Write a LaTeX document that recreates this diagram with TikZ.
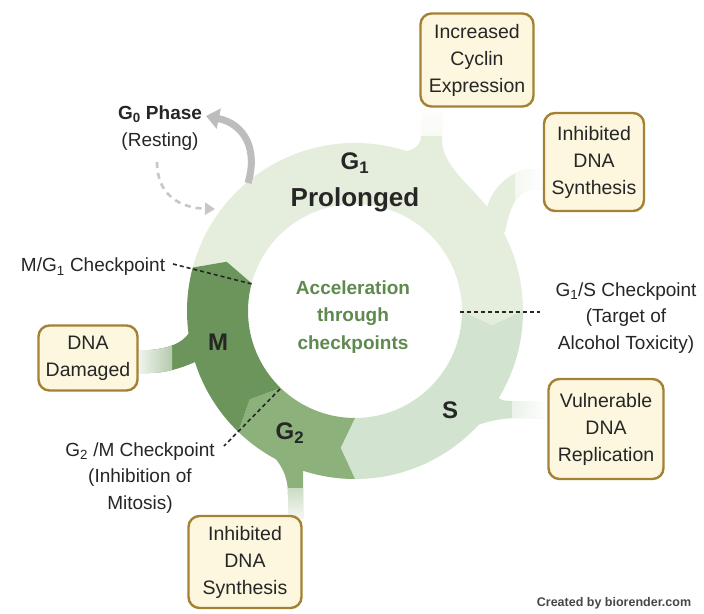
\documentclass[tikz,border=0pt]{standalone}
\usepackage{fontspec}
\setmainfont{Liberation Sans}
\usetikzlibrary{arrows.meta}
\definecolor{gonec}{HTML}{E5EEDD}
\definecolor{sphc}{HTML}{D2E4CF}
\definecolor{gtwoc}{HTML}{8CB17A}
\definecolor{mphc}{HTML}{6B955A}
\definecolor{accelc}{HTML}{5E8A4F}
\definecolor{boxfill}{HTML}{FCF7DE}
\definecolor{boxline}{HTML}{A58233}
\definecolor{inkc}{HTML}{262626}
\definecolor{arrowc}{HTML}{BDBDBD}
\tikzset{
  cellbox/.style={draw=boxline, fill=boxfill, line width=2.4pt, rounded corners=11pt,
    align=center, text=inkc, font=\fontsize{19.5}{27}\selectfont},
  phaselbl/.style={text=inkc, font=\bfseries\fontsize{24}{28}\selectfont},
  cklabel/.style={align=center, text=inkc, font=\fontsize{19}{26.5}\selectfont},
  ckline/.style={inkc, line width=1.6pt, dash pattern=on 4pt off 3pt},
}
\begin{document}
\begin{tikzpicture}[x=1pt,y=-1pt]
  \fill[white] (0,0) rectangle (704,613);
  \useasboundingbox (0,0) rectangle (704,613);

  % branches out of the ring
  \fill[gonec, path picture={\shade[top color=white, bottom color=gonec] (400,104) rectangle (460,135);}]
    (421,108) -- (421,135) .. controls (421,147) and (413,150) .. (403,152)
    -- (440,200) -- (487,207) .. controls (470,185) and (442,165) .. (442,140) -- (442,108) -- cycle;
  \fill[gonec, path picture={\shade[left color=gonec, right color=white] (515,160) rectangle (546,200);}]
    (487,207) .. controls (493,188) and (508,172) .. (530,169) -- (546,169)
    -- (546,189) -- (532,189) .. controls (518,191) and (510,205) .. (505,232) -- (470,230) -- cycle;
  \fill[mphc, path picture={\shade[left color=mphc!10, right color=mphc] (138,340) rectangle (172,380);}]
    (138,350) -- (150,350) .. controls (170,348) and (182,343) .. (189,333)
    -- (215,345) -- (195,362) .. controls (182,368) and (165,373) .. (150,373) -- (138,373) -- cycle;
  \fill[gtwoc, path picture={\shade[top color=gtwoc, bottom color=gtwoc!10] (280,488) rectangle (310,518);}]
    (303,518) -- (303,470) -- (290,440) -- (275,458)
    .. controls (283,468) and (288,478) .. (288,495) -- (288,518) -- cycle;
  \fill[sphc, path picture={\shade[left color=sphc, right color=white] (512,395) rectangle (548,425);}]
    (548,401) -- (510,401) .. controls (503,401) and (500,399) .. (497,397)
    -- (470,400) -- (478,425) .. controls (492,420) and (505,418) .. (520,418) -- (548,418) -- cycle;

  % the cycle
  \begin{scope}[shift={(355,311)}]
    \foreach \a/\b/\c in {-165/0/gonec, 0/90/sphc, 90/134/gtwoc, 134/195/mphc}
      \fill[\c] (\a:168) arc[start angle=\a, end angle=\b, radius=168] -- ({\b+6}:137.5)
        -- (\b:107) arc[start angle=\b, end angle=\a, radius=107] -- ({\a+6}:137.5) -- cycle;
  \end{scope}

  \node[phaselbl] (gone) at (355,163) {G\textsubscript{1}};
  \node[text=inkc, font=\bfseries\fontsize{26}{30}\selectfont] (prol) at (355,200) {Prolonged};
  \node[phaselbl] (mph) at (218,342) {M};
  \node[phaselbl] (gtwo) at (290,433) {G\textsubscript{2}};
  \node[phaselbl] (sph) at (450,410) {S};
  \node[align=center, text=accelc, font=\bfseries\fontsize{19}{27.5}\selectfont] (accel) at (353,317)
    {Acceleration\\through\\checkpoints};

  % checkpoints
  \node[cklabel] (mgone) at (93,267) {M/G\textsubscript{1} Checkpoint};
  \node[cklabel] (gones) at (626,318) {G\textsubscript{1}/S Checkpoint\\(Target of\\Alcohol Toxicity)};
  \node[cklabel] (gtwom) at (140,478) {G\textsubscript{2} /M Checkpoint\\(Inhibition of\\Mitosis)};
  \coordinate (mgoneA) at (173,264);
  \coordinate (mgoneB) at (252,284);
  \coordinate (gonesA) at (460,312);
  \coordinate (gonesB) at (540,312);
  \coordinate (gtwomA) at (280,389);
  \coordinate (gtwomB) at (224,446);
  \draw[ckline] (mgoneA) -- (mgoneB);
  \draw[ckline] (gonesA) -- (gonesB);
  \draw[ckline] (gtwomA) -- (gtwomB);

  % G0
  \node[cklabel] (gzero) at (160,128) {\textbf{G\textsubscript{0} Phase}\\(Resting)};
  \coordinate (gzeroOut) at (248,183);
  \coordinate (gzeroTip) at (206,116);
  \coordinate (gzeroBack) at (157,162);
  \coordinate (gzeroIn) at (215,209);
  \draw[arrowc, line width=7pt, -{Triangle[length=13pt,width=20pt]}]
    (gzeroOut) .. controls (258,150) and (245,124) .. (gzeroTip);
  \draw[arrowc!85, line width=2.6pt, dash pattern=on 6pt off 5pt, -{Triangle[length=10pt,width=12pt]}]
    (gzeroBack) .. controls (157,195) and (180,208) .. (gzeroIn);

  % effects
  \node[cellbox, minimum width=113pt, minimum height=93pt] (cyclin) at (477,60) {Increased\\Cyclin\\Expression};
  \node[cellbox, minimum width=100pt, minimum height=98pt] (synthA) at (594,162) {Inhibited\\DNA\\Synthesis};
  \node[cellbox, minimum width=99pt, minimum height=65pt] (damaged) at (88,358) {DNA\\Damaged};
  \node[cellbox, minimum width=115pt, minimum height=100pt] (replic) at (606,429) {Vulnerable\\DNA\\Replication};
  \node[cellbox, minimum width=113pt, minimum height=92pt] (synthB) at (245,562) {Inhibited\\DNA\\Synthesis};

  \node[text=inkc!85, font=\bfseries\fontsize{12.5}{14}\selectfont] (credit) at (614,603) {Created by biorender.com};
\end{tikzpicture}
\end{document}
